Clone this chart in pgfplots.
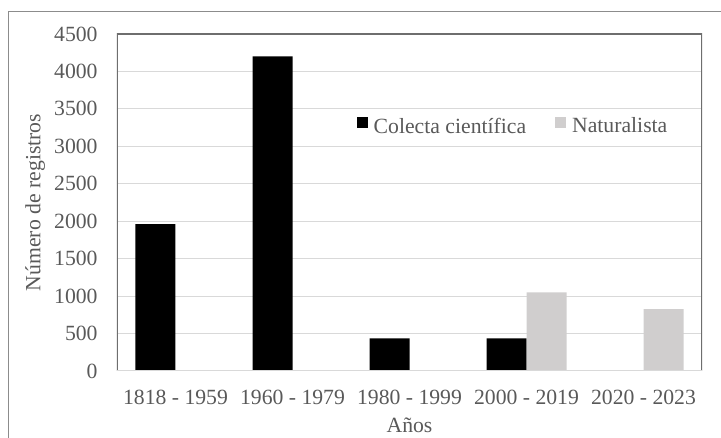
\documentclass[border=0pt]{standalone}
\usepackage{fontspec}
\setmainfont{Liberation Serif}
\usepackage{pgfplots}
\pgfplotsset{compat=1.18}
\definecolor{txt}{HTML}{595959}
\definecolor{barg}{HTML}{D0CECE}
\definecolor{gridc}{HTML}{D9D9D9}
\definecolor{framec}{HTML}{6E6E6E}
\definecolor{outerc}{HTML}{8C8C8C}
\begin{document}
\fontsize{21.7}{26}\selectfont
\begin{tikzpicture}[x=1pt,y=1pt]
\useasboundingbox (0,0) rectangle (721,438);
\draw[outerc, line width=1pt] (8,0) -- (8,426) -- (721,426);
\begin{axis}[
  at={(117pt,67pt)}, anchor=south west,
  scale only axis, width=585pt, height=337pt,
  xmin=-0.5, xmax=4.5, ymin=0, ymax=4500,
  ytick={0,500,...,4500},
  xtick={0,1,2,3,4},
  xticklabels={1818 - 1959, 1960 - 1979, 1980 - 1999, 2000 - 2019, 2020 - 2023},
  major tick length=0pt,
  ymajorgrids, grid style={gridc, line width=1pt},
  axis line style={draw=none},
  tick label style={font=\fontsize{21.7}{26}\selectfont, text=txt},
  /pgf/number format/assume math mode=true,
  /pgf/number format/1000 sep={},
  yticklabel style={xshift=-12pt},
  xticklabel style={yshift=-12pt},
  ylabel={Número de registros},
  xlabel={Años},
  every axis y label/.style={at={(axis description cs:-0.14,0.5)}, rotate=90, anchor=center, text=txt, font=\fontsize{21.7}{26}\selectfont},
  every axis x label/.style={at={(axis description cs:0.5,-0.182)}, anchor=base, text=txt, font=\fontsize{21.7}{26}\selectfont},
  legend style={at={(axis description cs:0.677,0.724)}, anchor=center, draw=none, fill=none,
    legend columns=2, text=txt, font=\fontsize{21.7}{26}\selectfont,
    /tikz/every even column/.append style={column sep=27pt}},
]
\addplot[ybar, bar width=40pt, bar shift=-20pt, fill=black, draw=none,
  legend image code/.code={\fill[black] (0pt,-1pt) rectangle (11pt,10pt); \path (15pt,0pt);}]
  coordinates {(0,1960) (1,4200) (2,435) (3,435)};
\addlegendentry{Colecta científica}
\addplot[ybar, bar width=40pt, bar shift=20pt, fill=barg, draw=none,
  legend image code/.code={\fill[barg] (0pt,-1pt) rectangle (11pt,10pt); \path (15pt,0pt);}]
  coordinates {(3,1050) (4,825)};
\addlegendentry{Naturalista}
\draw[framec, line width=1.2pt] (rel axis cs:0,0) -- (rel axis cs:0,1) -- (rel axis cs:1,1) -- (rel axis cs:1,0);
\draw[gridc, line width=1pt] (rel axis cs:0,0) -- (rel axis cs:1,0);
\end{axis}
\end{tikzpicture}
\end{document}
